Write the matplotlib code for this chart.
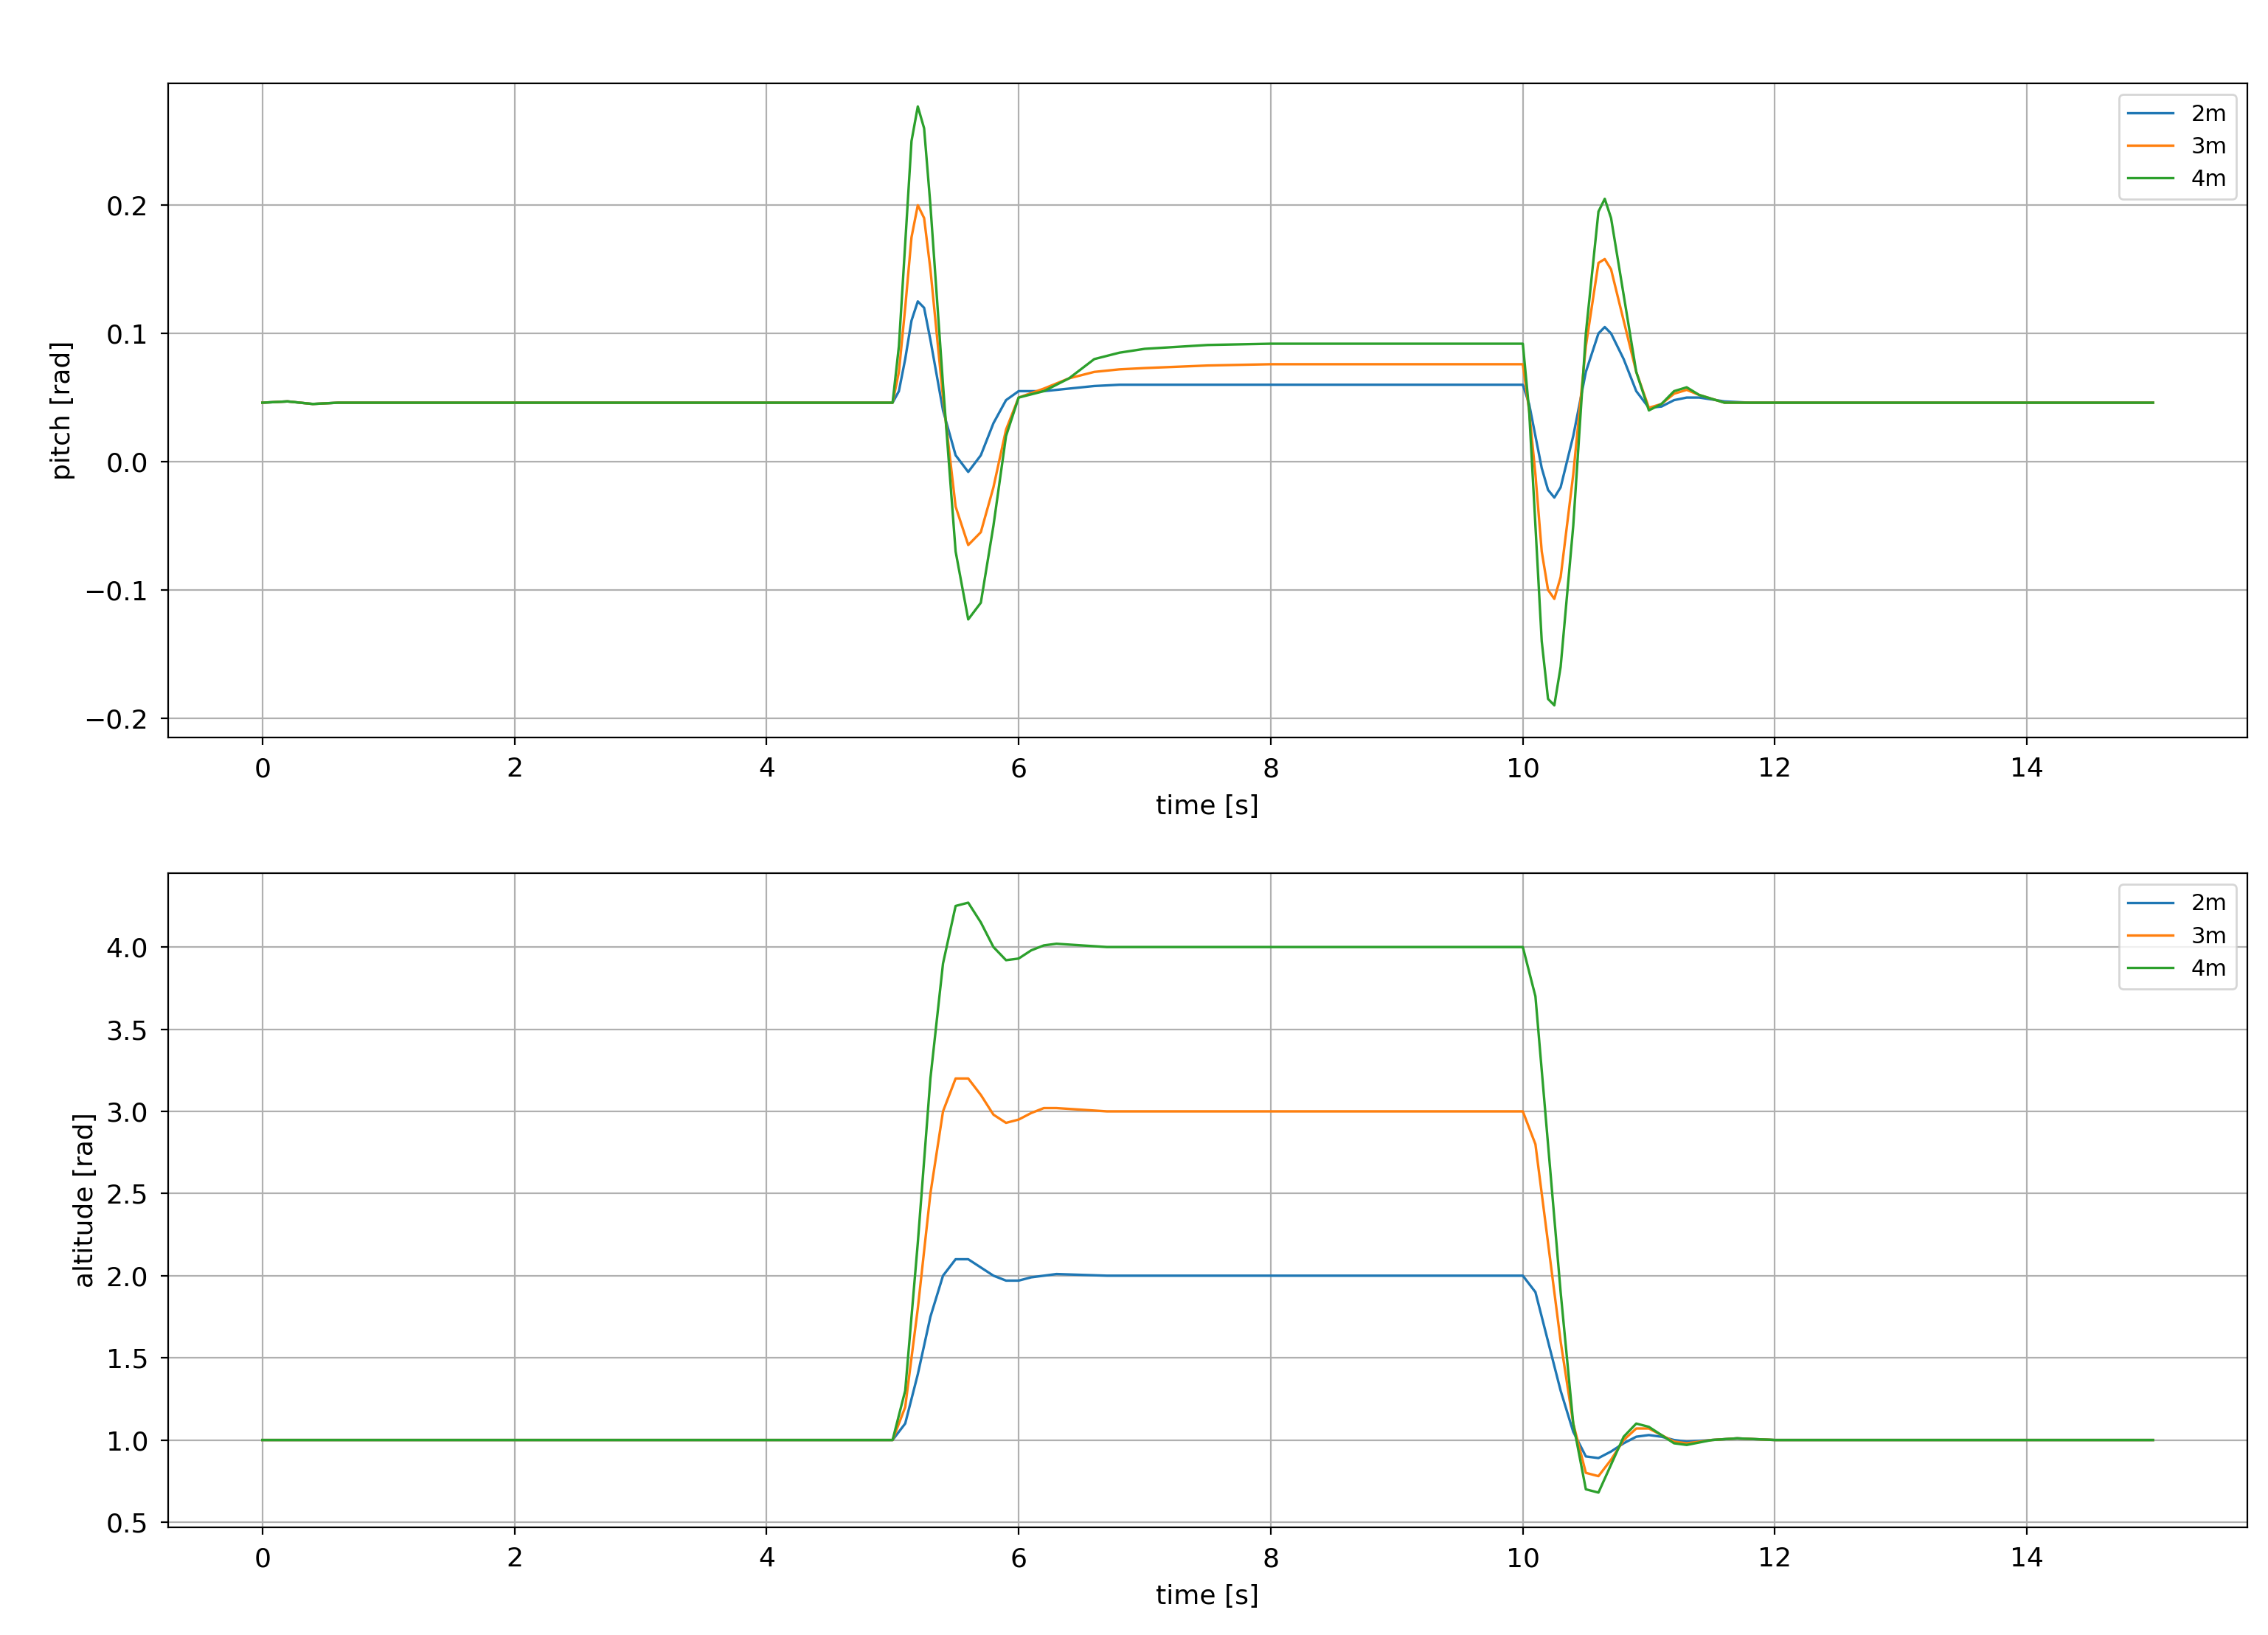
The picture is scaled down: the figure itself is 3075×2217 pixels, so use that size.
import matplotlib.pyplot as plt

# pitch data
t_p = [0, 0.2, 0.4, 0.6, 1, 5.0, 5.05, 5.1, 5.15, 5.2, 5.25, 5.3, 5.4, 5.5, 5.6, 5.7, 5.8, 5.9, 6.0,
       6.2, 6.4, 6.6, 6.8, 7, 7.5, 8, 9, 10.0, 10.05, 10.1, 10.15, 10.2, 10.25, 10.3, 10.4, 10.5, 10.6,
       10.65, 10.7, 10.8, 10.9, 11.0, 11.1, 11.2, 11.3, 11.4, 11.6, 11.8, 12, 15]
pitch_2m = [0.046, 0.047, 0.045, 0.046, 0.046, 0.046, 0.055, 0.08, 0.11, 0.125, 0.12, 0.095, 0.04, 0.005,
            -0.008, 0.005, 0.03, 0.048, 0.055, 0.055, 0.057, 0.059, 0.06, 0.06, 0.06, 0.06, 0.06, 0.06,
            0.045, 0.02, -0.005, -0.022, -0.028, -0.02, 0.02, 0.07, 0.1, 0.105, 0.1, 0.08, 0.055, 0.042,
            0.043, 0.048, 0.05, 0.05, 0.047, 0.046, 0.046, 0.046]
pitch_3m = [0.046, 0.047, 0.045, 0.046, 0.046, 0.046, 0.07, 0.12, 0.175, 0.2, 0.19, 0.15, 0.05, -0.035,
            -0.065, -0.055, -0.02, 0.025, 0.05, 0.057, 0.065, 0.07, 0.072, 0.073, 0.075, 0.076, 0.076, 0.076,
            0.04, -0.01, -0.07, -0.1, -0.107, -0.09, -0.01, 0.09, 0.155, 0.158, 0.15, 0.11, 0.07, 0.042,
            0.045, 0.053, 0.056, 0.052, 0.046, 0.046, 0.046, 0.046]
pitch_4m = [0.046, 0.047, 0.045, 0.046, 0.046, 0.046, 0.09, 0.17, 0.25, 0.277, 0.26, 0.2, 0.06, -0.07,
            -0.123, -0.11, -0.05, 0.02, 0.05, 0.055, 0.065, 0.08, 0.085, 0.088, 0.091, 0.092, 0.092, 0.092,
            0.04, -0.05, -0.14, -0.185, -0.19, -0.16, -0.05, 0.1, 0.195, 0.205, 0.19, 0.13, 0.07, 0.04,
            0.045, 0.055, 0.058, 0.052, 0.046, 0.046, 0.046, 0.046]

# altitude data
t_a = [0, 5.0, 5.1, 5.2, 5.3, 5.4, 5.5, 5.6, 5.7, 5.8, 5.9, 6.0, 6.1, 6.2, 6.3, 6.5, 6.7, 7, 10.0, 10.1,
       10.2, 10.3, 10.4, 10.5, 10.6, 10.7, 10.8, 10.9, 11.0, 11.1, 11.2, 11.3, 11.5, 11.7, 12, 15]
alt_2m = [1, 1, 1.1, 1.4, 1.75, 2.0, 2.1, 2.1, 2.05, 2.0, 1.97, 1.97, 1.99, 2.0, 2.01, 2.005, 2.0, 2.0,
          2.0, 1.9, 1.6, 1.3, 1.05, 0.9, 0.89, 0.93, 0.98, 1.02, 1.03, 1.02, 1.0, 0.99, 1.0, 1.01, 1.0, 1.0]
alt_3m = [1, 1, 1.2, 1.8, 2.5, 3.0, 3.2, 3.2, 3.1, 2.98, 2.93, 2.95, 2.99, 3.02, 3.02, 3.01, 3.0, 3.0,
          3.0, 2.8, 2.2, 1.6, 1.1, 0.8, 0.78, 0.88, 1.0, 1.07, 1.07, 1.03, 0.99, 0.98, 1.0, 1.01, 1.0, 1.0]
alt_4m = [1, 1, 1.3, 2.2, 3.2, 3.9, 4.25, 4.27, 4.15, 4.0, 3.92, 3.93, 3.98, 4.01, 4.02, 4.01, 4.0, 4.0,
          4.0, 3.7, 2.8, 1.9, 1.1, 0.7, 0.68, 0.85, 1.02, 1.1, 1.08, 1.03, 0.98, 0.97, 1.0, 1.01, 1.0, 1.0]

labels = ['2m', '3m', '4m']

fig = plt.figure(figsize=(15.375, 11.085), dpi=200)
ax1 = fig.add_axes([0.074, 0.549, 0.917, 0.400])
ax2 = fig.add_axes([0.074, 0.066, 0.917, 0.400])

for y, lab in zip([pitch_2m, pitch_3m, pitch_4m], labels):
    ax1.plot(t_p, y, lw=1.2, label=lab)
ax1.set_ylim(-0.215, 0.295)
ax1.set_ylabel('pitch [rad]', fontsize=13)

for y, lab in zip([alt_2m, alt_3m, alt_4m], labels):
    ax2.plot(t_a, y, lw=1.2, label=lab)
ax2.set_ylim(0.47, 4.45)
ax2.set_ylabel('altitude [rad]', fontsize=13)

for ax in (ax1, ax2):
    ax.set_xlim(-0.75, 15.75)
    ax.set_xlabel('time [s]', fontsize=13, labelpad=6)
    ax.tick_params(labelsize=13, pad=6)
    ax.grid(True)
    ax.legend(loc='upper right', fontsize=11)

fig.savefig('out.png', dpi=200)
